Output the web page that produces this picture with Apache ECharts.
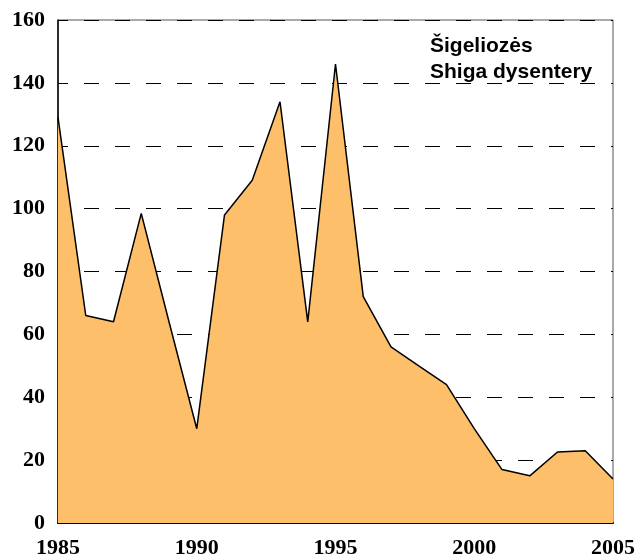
<!DOCTYPE html>
<html>
<head>
<meta charset="utf-8">
<script src="https://cdn.jsdelivr.net/npm/echarts@6/dist/echarts.min.js"></script>
<style>
  html, body { margin: 0; padding: 0; background: #fff; }
  #chart { width: 638px; height: 559px; }
</style>
</head>
<body>
<div id="chart"></div>
<script>
// data
const years = [1985, 1986, 1987, 1988, 1989, 1990, 1991, 1992, 1993, 1994, 1995,
               1996, 1997, 1998, 1999, 2000, 2001, 2002, 2003, 2004, 2005];
const cases = [129, 66, 64, 98.5, 64, 30, 98, 109, 134, 64, 146,
               72, 56, 50, 44, 30, 17, 15, 22.6, 23, 14];
const legendLines = ["Šigeliozės", "Shiga dysentery"];

const chart = echarts.init(document.getElementById("chart"));

const labelFont = {
  fontFamily: "Liberation Serif",
  fontWeight: "bold",
  fontSize: 22,
  color: "#000"
};

chart.setOption({
  animation: false,
  backgroundColor: "#fff",
  grid: { left: 58, right: 25, top: 20, bottom: 35, show: true, borderColor: "#555", borderWidth: 1 },
  title: {
    text: legendLines.join("\n"),
    left: 425,
    top: 28,
    textStyle: { fontFamily: "Liberation Sans", fontWeight: "bold", fontSize: 21, lineHeight: 26, color: "#000" }
  },
  xAxis: {
    type: "value",
    min: 1985,
    max: 2005,
    interval: 5,
    axisLine: { lineStyle: { color: "#000", width: 2 } },
    axisTick: { show: false },
    splitLine: { show: false },
    axisLabel: Object.assign({ margin: 14, formatter: v => String(v) }, labelFont)
  },
  yAxis: {
    type: "value",
    min: 0,
    max: 160,
    interval: 20,
    axisLine: { show: true, lineStyle: { color: "#000", width: 1.5 } },
    axisTick: { show: false },
    splitLine: { lineStyle: { color: "#000", type: [15, 16], dashOffset: 5, width: 1 } },
    axisLabel: Object.assign({ margin: 13 }, labelFont)
  },
  series: [{
    type: "line",
    data: years.map((y, i) => [y, cases[i]]),
    symbol: "none",
    lineStyle: { color: "#000", width: 1.5 },
    areaStyle: { color: "#FDBF6A", opacity: 1 },
    z: 1
  }]
});
</script>
</body>
</html>
